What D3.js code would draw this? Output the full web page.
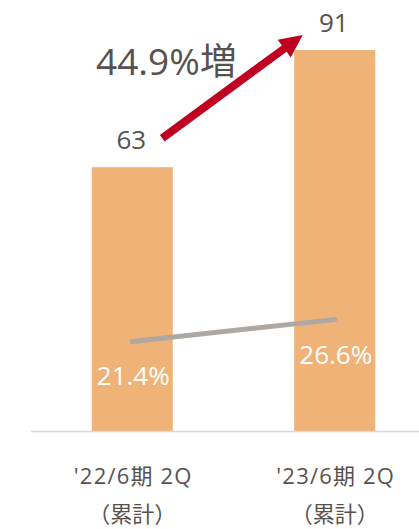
<!DOCTYPE html>
<html>
<head>
<meta charset="utf-8">
<script src="https://cdn.jsdelivr.net/npm/d3@7"></script>
<style>
  body { margin: 0; background: #fff; }
  svg { display: block; }
</style>
</head>
<body>
<div id="chart"></div>
<script>
// data
var categories = ["'22/6期 2Q", "'23/6期 2Q"]
var subLabels = ["（累計）", "（累計）"]
var barValues = [63, 91]
var ratioValues = [21.4, 26.6]
var growthLabel = "44.9%増"

var width = 419,
    height = 529

var svg = d3.select("#chart")
  .append("svg")
    .attr("width", width)
    .attr("height", height)

var font = "'Open Sans', 'Noto Sans CJK JP', sans-serif"
var textColor = "#58524e"

// scales
var x = d3.scaleBand()
  .domain(categories)
  .range([31, 436])
  .padding(0)

var barW = x.bandwidth() * 0.4

var y = d3.scaleLinear()
  .domain([0, 100])
  .range([431, 12.3])

function cx(c) { return x(c) + x.bandwidth() / 2 }

// bars
svg.selectAll("rect.bar")
  .data(barValues)
  .enter()
  .append("rect")
    .attr("class", "bar")
    .attr("x", function(d, i) { return cx(categories[i]) - barW / 2 })
    .attr("y", function(d) { return y(d) })
    .attr("width", barW)
    .attr("height", function(d) { return y(0) - y(d) })
    .attr("fill", "#efb277")

// baseline
svg.append("line")
  .attr("x1", 31).attr("x2", width)
  .attr("y1", y(0) + 0.5).attr("y2", y(0) + 0.5)
  .attr("stroke", "#d9d9d9")
  .attr("stroke-width", 1.5)

// ratio line
var line = d3.line()
  .x(function(d, i) { return cx(categories[i]) })
  .y(function(d) { return y(d) })

svg.append("path")
  .datum(ratioValues)
  .attr("d", line)
  .attr("fill", "none")
  .attr("stroke", "#ada8a3")
  .attr("stroke-width", 5)
  .attr("stroke-linecap", "round")

// ratio labels
svg.selectAll("text.ratio")
  .data(ratioValues)
  .enter()
  .append("text")
    .attr("class", "ratio")
    .attr("x", function(d, i) { return cx(categories[i]) + 1 })
    .attr("y", function(d) { return y(d) + 44 })
    .attr("text-anchor", "middle")
    .attr("font-family", font)
    .attr("font-size", 26)
    .attr("fill", "#fff")
    .text(function(d) { return d.toFixed(1) + "%" })

// bar value labels
svg.selectAll("text.val")
  .data(barValues)
  .enter()
  .append("text")
    .attr("class", "val")
    .attr("x", function(d, i) { return cx(categories[i]) - 1 })
    .attr("y", function(d) { return y(d) - 18 })
    .attr("text-anchor", "middle")
    .attr("font-family", font)
    .attr("font-size", 26)
    .attr("fill", textColor)
    .text(function(d) { return d })

// growth arrow
var x0 = cx(categories[0]) + 30, y0 = y(barValues[0]) - 29,
    x1 = cx(categories[1]) - 32, y1 = y(barValues[1]) - 15
var ang = Math.atan2(y1 - y0, x1 - x0)
var headLen = 23, headW = 11, shaftW = 4
var len = Math.hypot(x1 - x0, y1 - y0)
var pts = [
  [0, -shaftW], [len - headLen, -shaftW], [len - headLen, -headW],
  [len, 0], [len - headLen, headW], [len - headLen, shaftW], [0, shaftW]
]
svg.append("polygon")
  .attr("points", pts.map(function(p) { return p.join(",") }).join(" "))
  .attr("transform", "translate(" + x0 + "," + y0 + ") rotate(" + (ang * 180 / Math.PI) + ")")
  .attr("fill", "#c00020")

svg.append("text")
  .attr("x", 96)
  .attr("y", 75)
  .attr("font-family", font)
  .attr("font-size", 37)
  .attr("fill", textColor)
  .text(growthLabel)

// category labels
svg.selectAll("text.cat")
  .data(categories)
  .enter()
  .append("text")
    .attr("class", "cat")
    .attr("x", function(d) { return cx(d) + 1 })
    .attr("y", 484)
    .attr("text-anchor", "middle")
    .attr("font-family", font)
    .attr("font-size", 22)
    .attr("letter-spacing", 1.2)
    .attr("fill", textColor)
    .text(function(d) { return d })

svg.selectAll("text.sub")
  .data(subLabels)
  .enter()
  .append("text")
    .attr("class", "sub")
    .attr("x", function(d, i) { return cx(categories[i]) })
    .attr("y", 522)
    .attr("text-anchor", "middle")
    .attr("font-family", "'Noto Sans CJK JP', sans-serif")
    .attr("font-size", 22)
    .attr("fill", textColor)
    .text(function(d) { return d })
</script>
</body>
</html>
